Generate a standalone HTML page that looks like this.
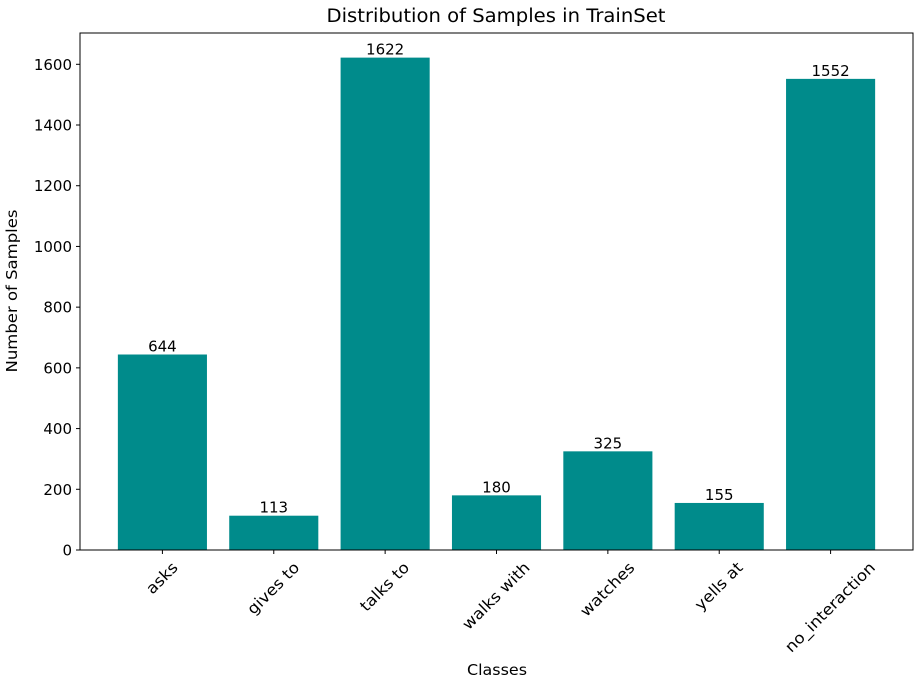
<!DOCTYPE html>
<html><head><meta charset="utf-8"><style>
body{margin:0;background:#fff;}
svg{font-family:"DejaVu Sans","Liberation Sans",sans-serif;display:block}
</style></head><body>
<svg id="chart" width="918" height="681">
<text x="496" y="22" font-size="18.5" text-anchor="middle" fill="#000" textLength="339" lengthAdjust="spacingAndGlyphs">Distribution of Samples in TrainSet</text>
<text x="497" y="675" font-size="15.5" text-anchor="middle" textLength="60" lengthAdjust="spacingAndGlyphs">Classes</text>
<text transform="translate(17,291) rotate(-90)" font-size="15.5" text-anchor="middle" textLength="163" lengthAdjust="spacingAndGlyphs">Number of Samples</text>
<g id="plot"></g>
</svg>
<script>
const categories=["asks","gives to","talks to","walks with","watches","yells at","no_interaction"];
const counts=[644,113,1622,180,325,155,1552];
const yTicks=[0,200,400,600,800,1000,1200,1400,1600];
const L=80,R=913,T=33,B=550;
const ymax=Math.max(...counts)*1.05;
const n=categories.length, xmin=-0.4-0.05*(n-1+0.8), xmax=n-1+0.4+0.05*(n-1+0.8);
const sx=v=>L+(v-xmin)/(xmax-xmin)*(R-L);
const sy=v=>B-v/ymax*(B-T);
const NS="http://www.w3.org/2000/svg", g=document.getElementById('plot');
function mk(t,a,p){const e=document.createElementNS(NS,t);for(const k in a)e.setAttribute(k,a[k]);(p||g).appendChild(e);return e;}
counts.forEach((v,i)=>{
  const r=mk('rect',{x:sx(i-0.4),y:sy(v),width:sx(i+0.4)-sx(i-0.4),height:B-sy(v),fill:'#008b8b'});
  
  
  const t=mk('text',{x:sx(i),y:sy(v)-3,'font-size':15,'text-anchor':'middle'});
  t.textContent=v;
  
  
  mk('line',{x1:sx(i),x2:sx(i),y1:B,y2:B+4,stroke:'#000'});
  const lb=mk('text',{'font-size':15.5,'text-anchor':'middle','dominant-baseline':'middle'});
  lb.textContent=categories[i];
  
  
  const w=lb.getComputedTextLength()*1.08,h=15;
  lb.setAttribute('textLength',w);
  lb.setAttribute('lengthAdjust','spacingAndGlyphs');
  lb.setAttribute('transform',`translate(${sx(i)},${560+(w+h)*0.354}) rotate(-45)`);
});
yTicks.forEach(v=>{
  mk('line',{x1:L-4,x2:L,y1:sy(v),y2:sy(v),stroke:'#000'});
  const t=mk('text',{x:L-8,y:sy(v)+5.5,'font-size':15,'text-anchor':'end'});
  t.textContent=v;
  
  
});
const f=mk('rect',{x:L,y:T,width:R-L,height:B-T,fill:'none',stroke:'#000','stroke-width':1});


</script>
</body></html>
